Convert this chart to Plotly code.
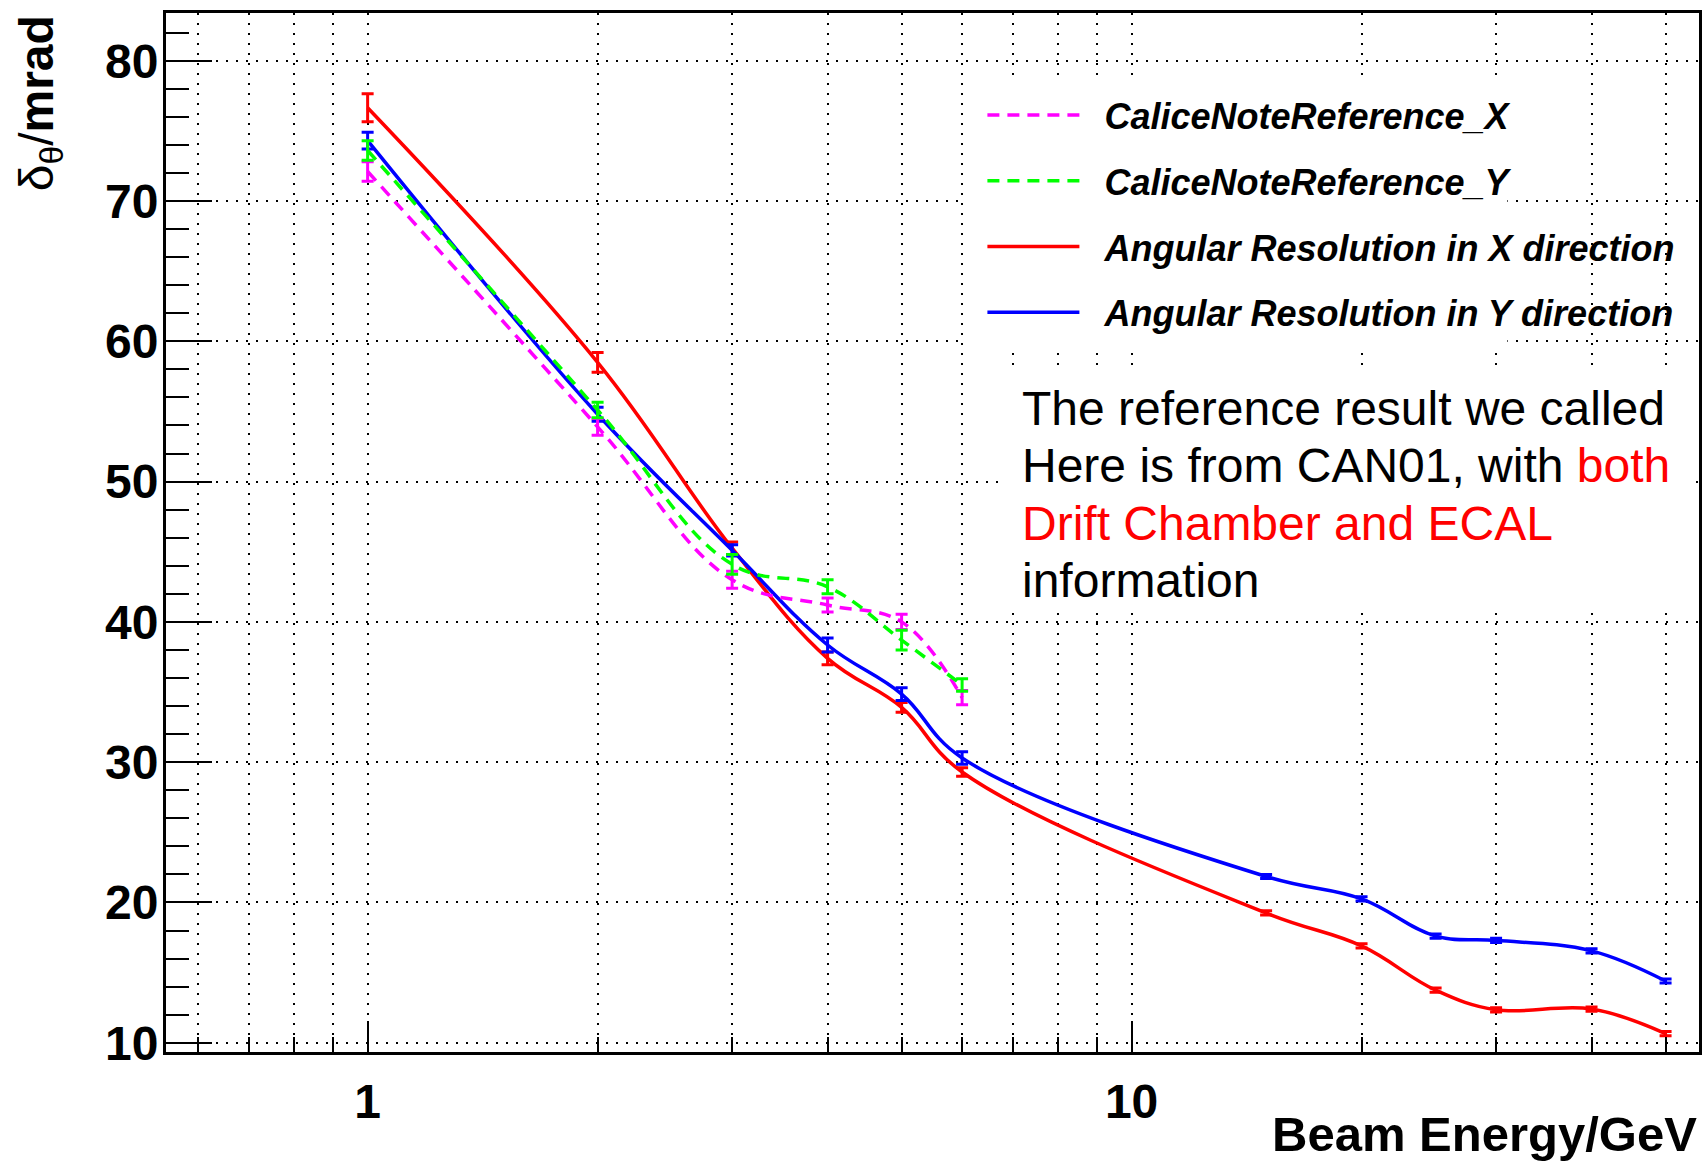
import math
import plotly.graph_objects as go

# ---- data -------------------------------------------------------------
energy = [1, 2, 3, 4, 5, 6, 15, 20, 25, 30, 40, 50]          # GeV
res_x = [76.65, 58.5, 45.25, 37.4, 33.9, 29.3, 19.25, 16.9, 13.75, 12.35, 12.4, 10.65]
res_x_err = [1.0, 0.7, 0.45, 0.45, 0.35, 0.3, 0.15, 0.15, 0.15, 0.15, 0.15, 0.15]
res_y = [74.3, 54.8, 45.1, 38.35, 34.85, 30.3, 21.85, 20.25, 17.6, 17.3, 16.55, 14.4]
res_y_err = [0.6, 0.5, 0.4, 0.5, 0.45, 0.45, 0.15, 0.15, 0.15, 0.15, 0.15, 0.15]

energy_ref = [1, 2, 3, 4, 5, 6]
ref_x = [72.1, 53.9, 43.0, 41.2, 40.0, 34.6]
ref_x_err = [0.7, 0.6, 0.6, 0.5, 0.55, 0.5]
ref_y = [73.6, 55.1, 44.1, 42.5, 38.7, 35.5]
ref_y_err = [0.7, 0.55, 0.7, 0.5, 0.7, 0.45]

x_major = [1, 10]
x_minor = [0.6, 0.7, 0.8, 0.9, 2, 3, 4, 5, 6, 7, 8, 9, 20, 30, 40, 50]
x_range = [0.5446, 55.3]
y_range = [9.34, 83.4]

note_lines = [
    "The reference result we called",
    "Here is from CAN01, with <span style='color:#ff0000'>both</span>",
    "<span style='color:#ff0000'>Drift Chamber and ECAL</span>",
    "information",
]

# ---- page geometry ----------------------------------------------------
W, H = 1704, 1162
ML, MR, MT, MB = 166, 2, 13, 110
PW, PH = W - ML - MR, H - MT - MB
FONT = "Liberation Sans, Arial, Helvetica, sans-serif"


def fx(px):
    return (px - ML) / PW


def fy(py):
    return (H - MB - py) / PH


GRID = dict(gridcolor="#000000", griddash="2px,8px", gridwidth=2)
PAD = "\u00a0\u00a0"   # small gap between legend sample and label

fig = go.Figure()


def add_series(name, xs, ys, errs, color, dash, rank, width):
    fig.add_trace(go.Scatter(
        x=xs, y=ys, name=PAD + name, mode="lines",
        line=dict(color=color, width=width, dash=dash, shape="spline", smoothing=1.1),
        error_y=dict(type="data", array=errs, visible=True, color=color,
                     thickness=3, width=6),
        legendgroup=name, legendrank=rank,
    ))


add_series("Angular Resolution in X direction", energy, res_x, res_x_err,
           "#ff0000", "solid", 3, 3.5)
add_series("Angular Resolution in Y direction", energy, res_y, res_y_err,
           "#0000ff", "solid", 4, 3.5)
add_series("CaliceNoteReference_X", energy_ref, ref_x, ref_x_err,
           "#ff00ff", "12px,8px", 1, 3.5)
add_series("CaliceNoteReference_Y", energy_ref, ref_y, ref_y_err,
           "#00ff00", "12px,8px", 2, 3.5)

# white panels behind the legend and the note (no data falls in these areas)
shapes = [
    dict(type="rect", xref="paper", yref="paper", layer="above",
         x0=fx(967), x1=fx(1510), y0=fy(345), y1=fy(83),
         fillcolor="white", line=dict(width=0)),
    dict(type="rect", xref="paper", yref="paper", layer="above",
         x0=fx(1003), x1=fx(1693), y0=fy(608), y1=fy(365),
         fillcolor="white", line=dict(width=0)),
]

annotations = []
baselines = [425, 482.5, 540, 597]
for txt, base in zip(note_lines, baselines):
    annotations.append(dict(
        text=txt, xref="paper", yref="paper", x=fx(1022), y=fy(base - 16.6),
        xanchor="left", yanchor="middle", showarrow=False,
        font=dict(family=FONT, size=48, color="black"),
    ))

# axis titles
annotations.append(dict(
    text="Beam Energy/GeV", xref="paper", yref="paper",
    x=fx(1700), y=fy(1161), xanchor="right", yanchor="bottom",
    borderpad=0, borderwidth=0,
    showarrow=False, font=dict(family=FONT, size=49, color="black", weight="bold"),
))
annotations.append(dict(
    text="δ<sub>θ</sub>/<b>mrad</b>", xref="paper", yref="paper",
    x=fx(40), y=fy(13), xanchor="center", yanchor="top", textangle=-90,
    showarrow=False, font=dict(family=FONT, size=48, color="black"),
))

fig.update_layout(
    width=W, height=H,
    margin=dict(l=ML, r=MR, t=MT, b=MB, pad=0),
    paper_bgcolor="white", plot_bgcolor="white",
    font=dict(family=FONT, color="black"),
    showlegend=True,
    legend=dict(
        x=fx(984), y=fy(85), xanchor="left", yanchor="top",
        bgcolor="rgba(0,0,0,0)", borderwidth=0,
        font=dict(family=FONT, size=36, color="black", weight="bold", style="italic"),
        itemwidth=92, tracegroupgap=16, traceorder="grouped",
    ),
    shapes=shapes,
    annotations=annotations,
)

fig.update_xaxes(
    type="log", range=[math.log10(x_range[0]), math.log10(x_range[1])],
    tickmode="array", tickvals=x_major, ticktext=[str(v) for v in x_major],
    ticks="inside", ticklen=31, tickwidth=2, tickcolor="black",
    showline=True, linewidth=3, linecolor="black", mirror=True,
    zeroline=False, showgrid=True, **GRID,
    tickfont=dict(family=FONT, size=48, color="black", weight="bold"),
    ticklabelstandoff=5,
    minor=dict(tickmode="array", tickvals=x_minor, ticks="inside", ticklen=15,
               tickwidth=2, tickcolor="black", showgrid=True, **GRID),
)
fig.update_yaxes(
    range=y_range, tickmode="linear", tick0=10, dtick=10,
    ticks="inside", ticklen=46, tickwidth=2, tickcolor="black",
    showline=True, linewidth=3, linecolor="black", mirror=True,
    zeroline=False, showgrid=True, **GRID,
    tickfont=dict(family=FONT, size=48, color="black", weight="bold"),
    ticklabelstandoff=-5,
    minor=dict(tick0=10, dtick=2, ticks="inside", ticklen=23, tickwidth=2,
               tickcolor="black", showgrid=False),
)

fig.write_html("out.html")
